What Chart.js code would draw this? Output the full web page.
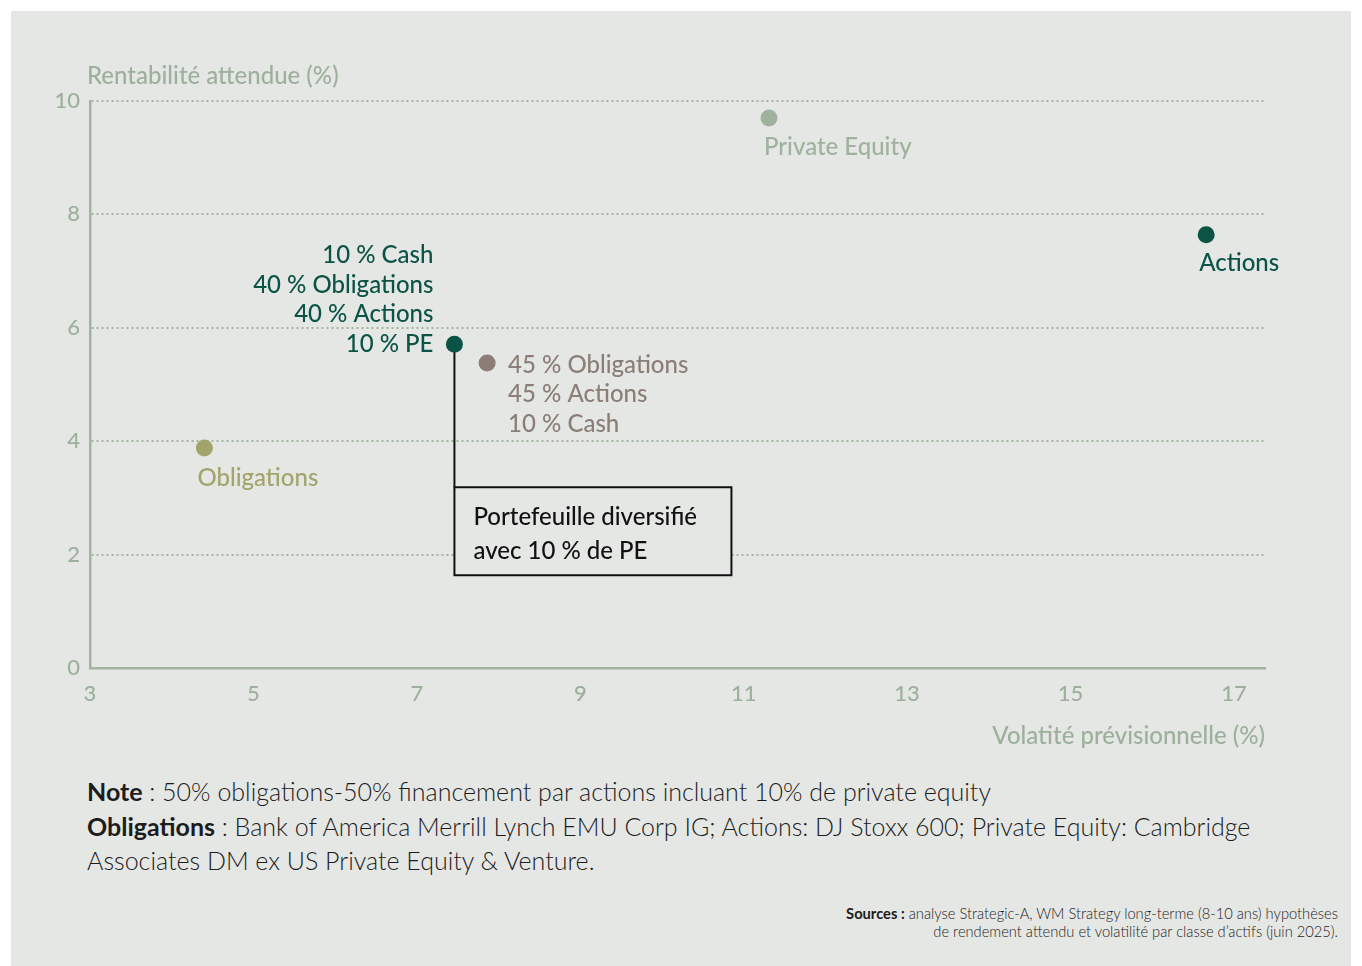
<!DOCTYPE html>
<html lang="fr">
<head>
<meta charset="utf-8">
<title>Rentabilité attendue et volatilité prévisionnelle</title>
<script src="https://cdn.jsdelivr.net/npm/chart.js@4.4.1/dist/chart.umd.min.js"></script>
<style>
  html, body { margin: 0; padding: 0; background: #ffffff; }
  body { width: 1362px; height: 966px; position: relative; overflow: hidden; font-family: Lato, "Noto Sans", sans-serif; }
  #panel { position: absolute; left: 11px; top: 11px; width: 1340px; height: 955px; background: #e5e7e5; }
  #wrap { position: absolute; left: 0; top: 0; width: 1362px; height: 770px; }
  #notes { position: absolute; left: 87px; top: 774px; width: 1200px; font-size: 25px; font-weight: 300; line-height: 34.5px; color: #1c1c1c; }
  #notes b, #sources b { font-weight: 700; }
  #sources { position: absolute; right: 24px; top: 904px; text-align: right; font-size: 14.7px; line-height: 18px; font-weight: 300; color: #1c1c1c; }
</style>
</head>
<body>
<div id="panel"></div>
<div id="wrap"><canvas id="chart" width="1362" height="770"></canvas></div>
<div id="notes">
  <b>Note</b> : 50% obligations-50% financement par actions incluant 10% de private equity<br>
  <b>Obligations</b> : Bank of America Merrill Lynch EMU Corp IG; Actions: DJ Stoxx 600; Private Equity: Cambridge<br>
  Associates DM ex US Private Equity &amp; Venture.
</div>
<div id="sources">
  <b>Sources :</b> analyse Strategic-A, WM Strategy long-terme (8-10 ans) hypothèses<br>
  de rendement attendu et volatilité par classe d’actifs (juin 2025).
</div>
<script>
// Asset classes and portfolios
const assetNames = ['Obligations', 'Private Equity', 'Actions', 'Portefeuille diversifié avec 10 % de PE', 'Portefeuille 45/45/10'];
// Forward-looking volatility (%)
const volatility = [4.40, 11.31, 16.66, 7.46, 7.86];
// Expected return (%)
const expectedReturn = [3.88, 9.70, 7.64, 5.71, 5.38];
// Text written next to each point
const pointLabels = [
  ['Obligations'],
  ['Private Equity'],
  ['Actions'],
  ['10 % Cash', '40 % Obligations', '40 % Actions', '10 % PE'],
  ['45 % Obligations', '45 % Actions', '10 % Cash']
];
const calloutLines = ['Portefeuille diversifié', 'avec 10 % de PE'];
const xTicks = [3, 5, 7, 9, 11, 13, 15, 17];
const yTicks = [0, 2, 4, 6, 8, 10];
const xTitle = 'Volatité prévisionnelle (%)';
const yTitle = 'Rentabilité attendue (%)';

// Styling
const SAGE = '#9cb09b';
const AXIS = '#a1b4a0';
const DARK = '#0b5345';
const pointColors = ['#a2a46b', '#9fb29e', DARK, DARK, '#8b7e77'];
const FONT = 'Lato, "Noto Sans", sans-serif';
const labelStyle = [
  { dx: -7,  dy: 30,  align: 'left'  },
  { dx: -5,  dy: 29,  align: 'left'  },
  { dx: -7,  dy: 28,  align: 'left'  },
  { dx: -21, dy: -89, align: 'right' },
  { dx: 21,  dy: 2,   align: 'left'  }
];
const LINE_H = 29.7;
const DIVERSIFIED = 3;

const annotations = {
  id: 'annotations',
  afterDatasetsDraw(chart) {
    const { ctx, chartArea, scales: { x, y } } = chart;
    ctx.save();
    ctx.textBaseline = 'middle';

    // axis titles
    ctx.font = `500 24px ${FONT}`;
    ctx.fillStyle = SAGE;
    ctx.textAlign = 'left';
    ctx.fillText(yTitle, chartArea.left - 3, chartArea.top - 25);
    ctx.textAlign = 'right';
    ctx.fillText(xTitle, chartArea.right, chartArea.bottom + 68);

    // point labels
    ctx.font = `500 24px ${FONT}`;
    pointLabels.forEach((lines, i) => {
      const px = x.getPixelForValue(volatility[i]);
      const py = y.getPixelForValue(expectedReturn[i]);
      const st = labelStyle[i];
      ctx.fillStyle = pointColors[i];
      ctx.textAlign = st.align;
      lines.forEach((t, k) => ctx.fillText(t, px + st.dx, py + st.dy + k * LINE_H));
    });

    // callout for the diversified portfolio
    const cx = x.getPixelForValue(volatility[DIVERSIFIED]);
    const cy = y.getPixelForValue(expectedReturn[DIVERSIFIED]);
    const boxTop = cy + 143, boxW = 277, boxH = 88;
    ctx.strokeStyle = '#111111';
    ctx.lineWidth = 2;
    ctx.beginPath();
    ctx.moveTo(cx, cy + 8);
    ctx.lineTo(cx, boxTop);
    ctx.stroke();
    ctx.fillStyle = '#e5e7e5';
    ctx.fillRect(cx, boxTop, boxW, boxH);
    ctx.strokeRect(cx, boxTop, boxW, boxH);
    ctx.fillStyle = '#111111';
    ctx.textAlign = 'left';
    ctx.font = `500 24px ${FONT}`;
    calloutLines.forEach((t, k) => ctx.fillText(t, cx + 19, boxTop + 30 + k * 34));
    ctx.restore();
  }
};

new Chart(document.getElementById('chart'), {
  type: 'scatter',
  data: {
    datasets: [{
      label: 'Rentabilité / volatilité',
      data: volatility.map((v, i) => ({ x: v, y: expectedReturn[i] })),
      pointBackgroundColor: pointColors,
      pointBorderWidth: 0,
      pointRadius: 8.5,
      pointHoverRadius: 8.5
    }]
  },
  options: {
    responsive: false,
    animation: false,
    events: [],
    layout: { padding: { top: 101, right: 97, bottom: 0, left: 0 } },
    plugins: { legend: { display: false }, tooltip: { enabled: false } },
    scales: {
      x: {
        type: 'linear',
        min: 3,
        max: 17.38,
        afterBuildTicks: s => { s.ticks = xTicks.map(v => ({ value: v })); },
        afterFit: s => { s.height = 102; },
        grid: { display: false, drawTicks: false },
        border: { display: true, color: AXIS, width: 2.5 },
        ticks: { color: SAGE, padding: 13, font: { family: FONT, size: 22, weight: 500 }, maxRotation: 0, autoSkip: false }
      },
      y: {
        type: 'linear',
        min: 0,
        max: 10,
        afterBuildTicks: s => { s.ticks = yTicks.map(v => ({ value: v })); },
        afterFit: s => { s.width = 90; },
        grid: { color: AXIS, lineWidth: 2, drawTicks: false },
        border: { display: true, color: AXIS, width: 2.5, dash: [2, 3] },
        ticks: { color: SAGE, padding: 10, font: { family: FONT, size: 22, weight: 500 } }
      }
    }
  },
  plugins: [annotations]
});
</script>
</body>
</html>
